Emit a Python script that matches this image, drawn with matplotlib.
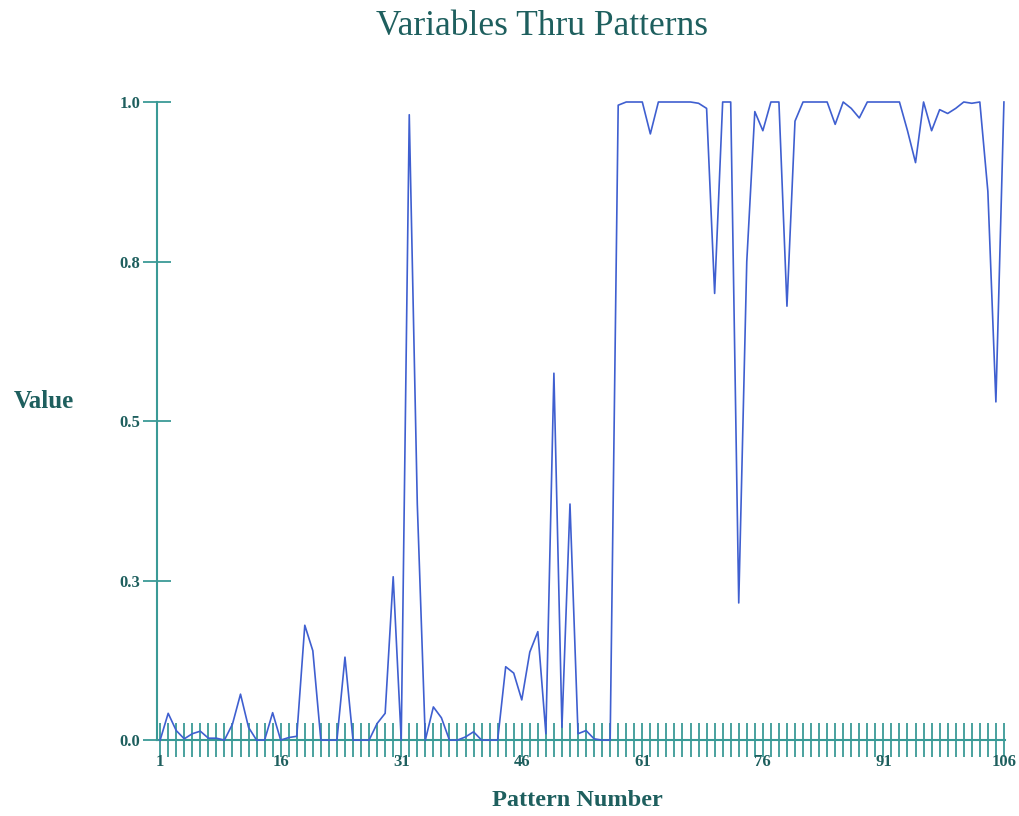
import numpy as np
import matplotlib
matplotlib.use('Agg')
import matplotlib.pyplot as plt

# pattern numbers and values
patterns = list(range(1, 107))
values = [
    0.0, 0.042, 0.015, 0.002, 0.01, 0.014, 0.003, 0.003, 0.0, 0.025,     # 1-10
    0.072, 0.02, 0.0, 0.0, 0.043, 0.0, 0.004, 0.006, 0.18, 0.14,         # 11-20
    0.0, 0.0, 0.0, 0.13, 0.0, 0.0, 0.0, 0.026, 0.042, 0.256,             # 21-30
    0.0, 0.98, 0.37, 0.0, 0.052, 0.035, 0.0, 0.0, 0.005, 0.013,          # 31-40
    0.0, 0.0, 0.0, 0.115, 0.105, 0.063, 0.138, 0.17, 0.01, 0.575,        # 41-50
    0.02, 0.37, 0.01, 0.015, 0.002, 0.0, 0.0, 0.995, 1.0, 1.0,           # 51-60
    1.0, 0.95, 1.0, 1.0, 1.0, 1.0, 1.0, 0.998, 0.99, 0.70,               # 61-70
    1.0, 1.0, 0.215, 0.75, 0.985, 0.955, 1.0, 1.0, 0.68, 0.97,           # 71-80
    1.0, 1.0, 1.0, 1.0, 0.965, 1.0, 0.99, 0.975, 1.0, 1.0,               # 81-90
    1.0, 1.0, 1.0, 0.955, 0.905, 1.0, 0.955, 0.988, 0.982, 0.99,         # 91-100
    1.0, 0.998, 1.0, 0.86, 0.53, 1.0,                                    # 101-106
]
x_ticklabels = [1, 16, 31, 46, 61, 76, 91, 106]
y_ticks = [0.0, 0.25, 0.5, 0.75, 1.0]
y_ticklabels = ['0.0', '0.3', '0.5', '0.8', '1.0']

axis_color = '#3a9a96'
text_color = '#1e5f5e'
line_color = '#3f5fd0'

plt.rcParams['font.family'] = ['Liberation Serif', 'DejaVu Serif']

fig = plt.figure(figsize=(10.19, 8.16), dpi=100)
ax = fig.add_axes([0.154, 0.093, 0.832, 0.782])

ax.plot(patterns, values, color=line_color, linewidth=1.2, clip_on=False, zorder=3)

ax.set_xlim(0.6, 106.1)
ax.set_ylim(0, 1)

ax.spines['top'].set_visible(False)
ax.spines['right'].set_visible(False)
ax.spines['left'].set_color(axis_color)
ax.spines['bottom'].set_color(axis_color)
ax.spines['left'].set_linewidth(1.5)
ax.spines['bottom'].set_linewidth(1.5)

ax.set_xticks(patterns)
ax.set_xticklabels([str(p) if p in x_ticklabels else '' for p in patterns])
ax.tick_params(axis='x', direction='inout', length=24, width=1.3, color=axis_color,
               labelsize=12, labelcolor=text_color, pad=-2)
ax.set_yticks(y_ticks)
ax.set_yticklabels(y_ticklabels)
ax.tick_params(axis='y', direction='inout', length=20, width=1.3, color=axis_color,
               labelsize=12, labelcolor=text_color, pad=2)
for lbl in ax.get_xticklabels() + ax.get_yticklabels():
    lbl.set_fontweight('bold')

fig.text(0.532, 0.967, 'Variables Thru Patterns', ha='center', va='center',
         fontsize=25.5, color=text_color)
fig.text(0.043, 0.508, 'Value', ha='center', va='center', fontsize=18,
         fontweight='bold', color=text_color)
fig.text(0.567, 0.019, 'Pattern Number', ha='center', va='center', fontsize=17.5,
         fontweight='bold', color=text_color)

fig.savefig('out.png', dpi=100, facecolor='white')
